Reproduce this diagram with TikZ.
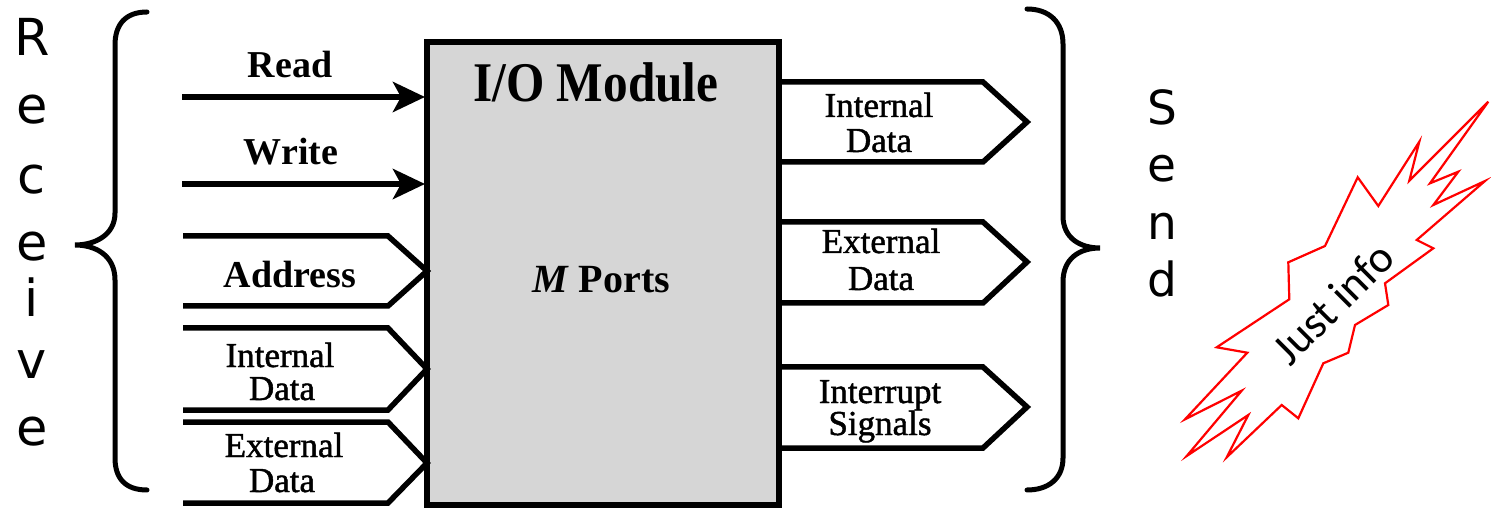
\documentclass[tikz,border=0pt]{standalone}
\usepackage{fontspec}
\usetikzlibrary{arrows.meta}
\newfontfamily\tmsfont{Liberation Serif}
\newfontfamily\tmsmedfont[FakeBold=1.3]{Liberation Serif}
\newfontfamily\titlefont[FakeStretch=0.88]{Liberation Serif}
\newfontfamily\handfont{DejaVu Sans}
\newfontfamily\notefont{Carlito}
\definecolor{boxgray}{RGB}{214,214,214}
\definecolor{burstred}{RGB}{255,0,0}

\begin{document}
\begin{tikzpicture}[x=1pt,y=-1pt,
  sig/.style={line width=6pt, shorten >=2pt,
    -{Stealth[length=32pt,width=30pt,inset=8pt]}},
  bus/.style={line width=5.5pt, line join=miter},
  brace/.style={line width=5pt, line cap=round},
  burst/.style={draw=burstred, line width=2.2pt, line join=miter},
  boldlbl/.style={font=\tmsfont\bfseries\fontsize{38}{38}\selectfont, inner sep=0pt, anchor=base},
  lbl/.style={font=\tmsmedfont\fontsize{35}{35}\selectfont, inner sep=0pt, anchor=base},
  recvch/.style={font=\handfont\fontsize{51}{51}\selectfont, inner sep=0pt, anchor=base},
  sendch/.style={font=\handfont\fontsize{47}{47}\selectfont, inner sep=0pt, anchor=base}]
\useasboundingbox (0,0) rectangle (1491,510);

% module body
\node[draw, line width=5.5pt, fill=boxgray, minimum width=352pt, minimum height=463pt,
  inner sep=0pt, outer sep=0pt] (box) at (603,273.5) {};
\node[font=\titlefont\bfseries\fontsize{56}{56}\selectfont, inner sep=0pt, anchor=base]
  (title) at (596,102) {I/O Module};
\node[boldlbl, font=\tmsfont\bfseries\fontsize{40}{40}\selectfont] (ports) at (601,293)
  {\textit{M} Ports};

% control inputs
\coordinate (readS) at (182,97);
\coordinate (writeS) at (182,184);
\draw[sig] (readS) -- (box.west |- readS);
\draw[sig] (writeS) -- (box.west |- writeS);
\node[boldlbl] (readL) at (290,78) {Read};
\node[boldlbl] (writeL) at (291,165) {Write};

% bus inputs
\draw[bus] (183,236) -- (388,236) -- (427,271) -- (388,306) -- (183,306);
\draw[bus] (183,328) -- (388,328) -- (427,369) -- (388,410) -- (183,410);
\draw[bus] (183,422) -- (388,422) -- (427,463) -- (388,503) -- (183,503);
\node[boldlbl] (addrL) at (290,288) {Address};
\node[lbl] (inIntA) at (280,367) {Internal};
\node[lbl] (inIntB) at (282,400) {Data};
\node[lbl] (inExtA) at (284,457) {External};
\node[lbl] (inExtB) at (282,492) {Data};

% bus outputs
\draw[bus] (779,82) -- (983,82) -- (1027,122) -- (983,162) -- (779,162);
\draw[bus] (779,222) -- (983,222) -- (1027,262) -- (983,303) -- (779,303);
\draw[bus] (779,367) -- (983,367) -- (1027,407) -- (983,448) -- (779,448);
\node[lbl] (outIntA) at (879,117) {Internal};
\node[lbl] (outIntB) at (879,152) {Data};
\node[lbl] (outExtA) at (881,253) {External};
\node[lbl] (outExtB) at (881,290) {Data};
\node[lbl] (outIrqA) at (880,403) {Interrupt};
\node[lbl] (outIrqB) at (880,435) {Signals};

% grouping braces
\draw[brace] (147,12) .. controls (125,12) and (115,25) .. (115,45) -- (115,213)
  .. controls (115,235) and (95,245) .. (75,245)
  .. controls (95,245) and (115,255) .. (115,280) -- (115,458)
  .. controls (115,478) and (125,490) .. (147,490);
\draw[brace] (1027,9) .. controls (1049,9) and (1063,22) .. (1063,44) -- (1063,216)
  .. controls (1063,238) and (1080,248) .. (1100,248)
  .. controls (1080,248) and (1063,258) .. (1063,282) -- (1063,458)
  .. controls (1063,478) and (1049,490) .. (1027,490);

% vertical captions
\foreach \c/\yy [count=\i] in {R/56,e/124,c/194,e/261,i/317,v/378,e/445}
  \node[recvch] (recv\i) at (32,\yy) {\c};
\foreach \c/\yy [count=\i] in {S/125,e/182,n/240,d/297}
  \node[sendch] (send\i) at (1162,\yy) {\c};

% note burst
\draw[burst] (1488.3,101.7) -- (1430,183.3) -- (1458.3,171.7) -- (1433.3,205)
  -- (1485,181) -- (1416.7,240) -- (1433.3,248.3) -- (1385,283.3) -- (1388.3,305)
  -- (1355,325) -- (1348.3,352.7) -- (1323.3,363.3) -- (1298.3,418.3) -- (1281.7,405)
  -- (1226.7,457.3) -- (1248.3,415) -- (1186.7,456) -- (1241.7,390.7) -- (1185,419.3)
  -- (1247.3,352.7) -- (1216.7,347.3) -- (1289.3,299.3) -- (1288.3,262.3) -- (1325,246)
  -- (1357.7,177.3) -- (1378.3,206) -- (1419.3,141.7) -- (1409.3,180.7) -- cycle;
\node[font=\notefont\fontsize{45}{45}\selectfont, rotate=45, inner sep=0pt]
  (note) at (1333,303) {Just info};
\end{tikzpicture}
\end{document}
